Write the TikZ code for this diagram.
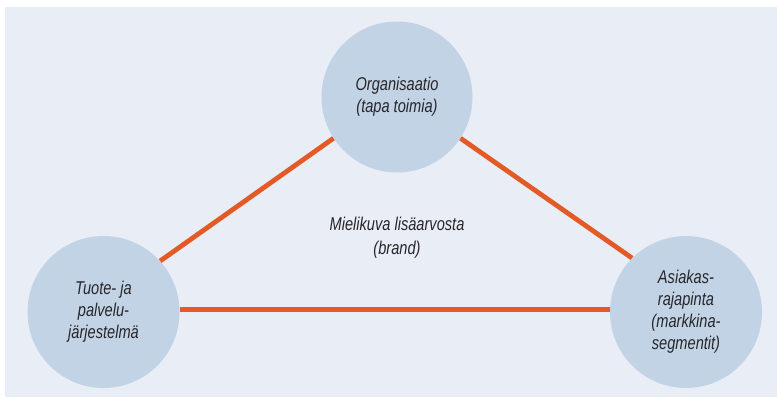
\documentclass[tikz,border=0pt]{standalone}
\usepackage{fontspec}
\setmainfont{Liberation Sans}[FakeStretch=0.79]
\usetikzlibrary{backgrounds}
\definecolor{cpanel}{HTML}{E9EDF5}
\definecolor{ccircle}{HTML}{C3D3E6}
\definecolor{corange}{HTML}{E35A26}
\definecolor{ctext}{HTML}{26262A}
\tikzset{
  every picture/.style={x=1pt, y=-1pt},
  circ/.style={circle, fill=ccircle, draw=none, minimum size=#1, inner sep=0pt, align=center,
    font=\fontsize{18.5}{22}\selectfont\itshape, text=ctext},
  circ/.default=151pt,
  link/.style={draw=corange, line width=4.8pt},
  lab/.style={align=center, font=\fontsize{18.5}{24}\selectfont\itshape, text=ctext},
}

\begin{document}
\begin{tikzpicture}
  \useasboundingbox (0,0) rectangle (777,399);
  \node[circ] (org) at (397,97) {Organisaatio\\(tapa toimia)};
  \node[circ=152pt] (tuote) at (103.5,312) {Tuote- ja\\palvelu-\\järjestelmä};
  \node[circ=152pt] (asiakas) at (686,312) {Asiakas-\\rajapinta\\(markkina-\\segmentit)};
  \node[lab] (brand) at (397,238) {Mielikuva lisäarvosta\\(brand)};
  % panel first, then the connectors under the circles
  \begin{scope}[on background layer]
    \fill[cpanel] (5,7) rectangle (777,397);
    \foreach \a/\b in {tuote.42/org.213, org.-33/asiakas.135, tuote.2/asiakas.178}
      \draw[link] (\a) -- (\b);
  \end{scope}
\end{tikzpicture}
\end{document}
